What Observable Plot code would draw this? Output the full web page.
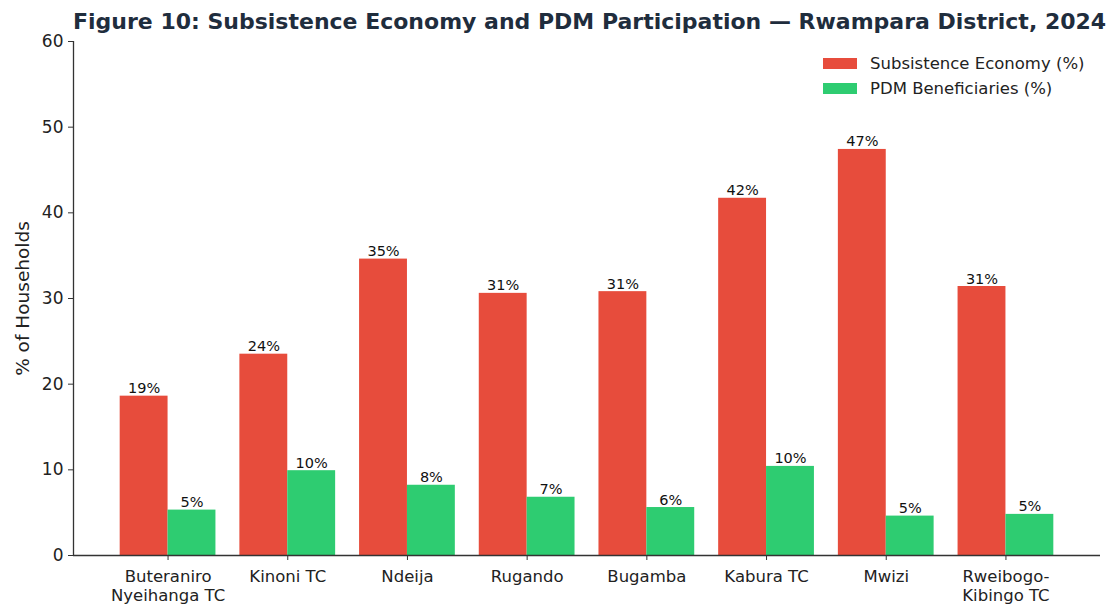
<!DOCTYPE html>
<html>
<head>
<meta charset="utf-8">
<script src="https://cdn.jsdelivr.net/npm/d3@7"></script>
<script src="https://cdn.jsdelivr.net/npm/@observablehq/plot@0.6"></script>
<style>
  body { margin: 0; background: #fff; font-family: "DejaVu Sans", sans-serif; }
  #wrap { position: relative; width: 1107px; height: 604px; overflow: hidden; }
  #title { height: 30px; box-sizing: border-box; padding-left: 73px; padding-right: 7px; text-align: center;
           font-size: 22px; font-weight: bold; color: #1f2d3d; line-height: 30px; white-space: nowrap; margin-top: 7px; margin-bottom: -7px; }
  #legend { position: absolute; left: 823px; top: 51px; font-size: 16.5px; color: #222; }
  .row { display: flex; align-items: center; height: 25px; }
  .sw { width: 34px; height: 11px; margin-right: 13px; }
</style>
</head>
<body>
<div id="wrap">
  <div id="title">Figure 10: Subsistence Economy and PDM Participation — Rwampara District, 2024</div>
  <div id="chart"></div>
  <div id="legend"></div>
</div>
<script>
const categories = ["Buteraniro Nyeihanga TC", "Kinoni TC", "Ndeija", "Rugando", "Bugamba", "Kabura TC", "Mwizi", "Rweibogo-Kibingo TC"];
const tickLabels = ["Buteraniro\nNyeihanga TC", "Kinoni TC", "Ndeija", "Rugando", "Bugamba", "Kabura TC", "Mwizi", "Rweibogo-\nKibingo TC"];
const series = ["Subsistence Economy (%)", "PDM Beneficiaries (%)"];
const subsistence = [18.6, 23.5, 34.6, 30.6, 30.8, 41.7, 47.4, 31.4];
const pdm = [5.3, 9.9, 8.2, 6.8, 5.6, 10.4, 4.6, 4.8];
const colors = ["#e74c3c", "#2ecc71"];
const yTicks = [0, 10, 20, 30, 40, 50, 60];

// grouped bars: each category at integer index, two bars of width 0.4 side by side
const barWidth = 0.4;
const seriesOffset = [-barWidth, 0];
const data = [];
categories.forEach((c, i) => {
  [subsistence, pdm].forEach((vals, s) => {
    data.push({category: c, index: i, series: series[s], value: vals[i],
               x1: i + seriesOffset[s], x2: i + seriesOffset[s] + barWidth});
  });
});
// automatic 5% margins around the bar extent
const lo = d3.min(data, d => d.x1), hi = d3.max(data, d => d.x2);
const pad = (hi - lo) * 0.05;

const chart = Plot.plot({
  width: 1107,
  height: 574,
  marginLeft: 73,
  marginRight: 7,
  marginTop: 11,
  marginBottom: 49,
  style: {fontFamily: "DejaVu Sans, sans-serif", color: "#222", background: "#fff"},
  x: {type: "linear", domain: [lo - pad, hi + pad]},
  y: {domain: [0, 60]},
  color: {domain: series, range: colors},
  marks: [
    Plot.rectY(data, {x1: "x1", x2: "x2", y: "value", fill: "series"}),
    Plot.text(data, {x: d => (d.x1 + d.x2) / 2, y: "value", text: d => Math.round(d.value) + "%",
      lineAnchor: "bottom", dy: -3, fontSize: 14.5, fill: "#111"}),
    Plot.axisY({ticks: yTicks, tickSize: 5, tickPadding: 5, fontSize: 17, stroke: "#333", label: null}),
    Plot.axisY({ticks: [], fontSize: 18.5, label: "% of Households", labelAnchor: "center", labelArrow: "none", labelOffset: 58}),
    Plot.axisX({ticks: d3.range(categories.length), tickSize: 5, tickPadding: 8, fontSize: 16.5, label: null,
      stroke: "#333", tickFormat: i => tickLabels[i], lineHeight: 1.15}),
    Plot.ruleX([lo - pad], {stroke: "#333", strokeWidth: 1.3}),
    Plot.ruleY([0], {stroke: "#333", strokeWidth: 1.3})
  ]
});
document.getElementById("chart").appendChild(chart);

const legend = document.getElementById("legend");
series.forEach((s, i) => {
  const row = document.createElement("div");
  row.className = "row";
  const sw = document.createElement("div");
  sw.className = "sw";
  sw.style.background = colors[i];
  const t = document.createElement("span");
  t.textContent = s;
  row.appendChild(sw);
  row.appendChild(t);
  legend.appendChild(row);
});
</script>
</body>
</html>
